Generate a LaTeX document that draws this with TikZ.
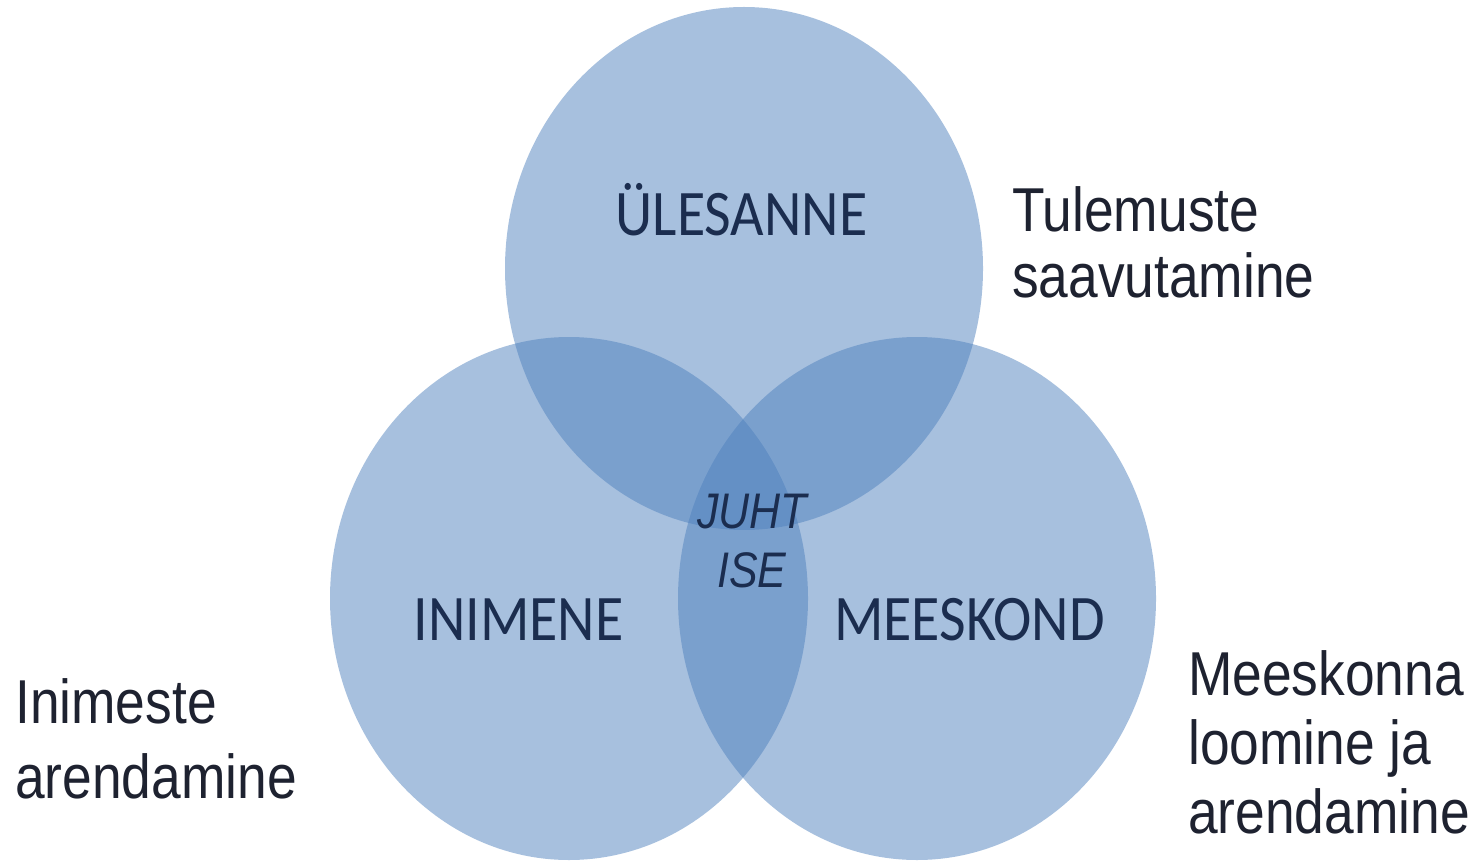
\documentclass[tikz,border=0pt]{standalone}
\usepackage{fontspec}
\usetikzlibrary{shapes.geometric}
\newfontfamily\ringfont[FakeStretch=0.89]{Carlito}
\newfontfamily\sidefont[FakeStretch=0.86]{Liberation Sans}
\definecolor{ringblue}{RGB}{79,129,189}
\definecolor{ringtext}{RGB}{27,45,79}
\definecolor{sidetext}{RGB}{30,34,48}
\begin{document}
\begin{tikzpicture}[x=1pt,y=-1pt,
    ring/.style={ellipse,fill=ringblue,fill opacity=0.5,inner sep=0pt,
                 minimum width=478pt,minimum height=523pt},
    ringlabel/.style={anchor=base,inner sep=0pt,text=ringtext,
                 font=\ringfont\fontsize{65}{70}\selectfont},
    sidelabel/.style={anchor=base west,inner sep=0pt,align=left,text=sidetext}]
    \useasboundingbox (0,0) rectangle (1482,866);
    % the three circles
    \node[ring] (task) at (744,268.5) {};
    \node[ring] (person) at (569,598.5) {};
    \node[ring] (team) at (917,598.5) {};
    % labels inside
    \node[ringlabel] (tasklabel) at (741.5,236) {ÜLESANNE};
    \node[ringlabel] (personlabel) at (518.5,640) {INIMENE};
    \node[ringlabel] (teamlabel) at (969.5,640) {MEESKOND};
    \node[anchor=base,inner sep=0pt,align=center,text=ringtext,
          font=\sidefont\itshape\fontsize{50}{59}\selectfont] (leader) at (752,587) {JUHT\\ISE};
    % labels outside (base = last line)
    \node[sidelabel,font=\sidefont\fontsize{62}{66}\selectfont] (taskgoal) at (1012,298) {Tulemuste\\saavutamine};
    \node[sidelabel,font=\sidefont\fontsize{62}{75}\selectfont] (persongoal) at (15,798) {Inimeste\\arendamine};
    \node[sidelabel,font=\sidefont\fontsize{62}{69}\selectfont] (teamgoal) at (1188,833) {Meeskonna\\loomine ja\\arendamine};
\end{tikzpicture}
\end{document}
